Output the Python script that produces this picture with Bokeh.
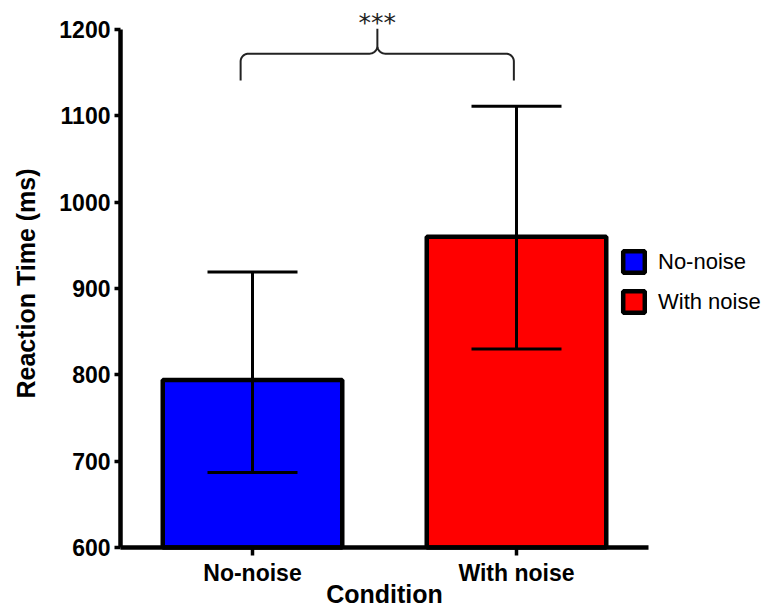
import numpy as np
from bokeh.plotting import figure
from bokeh.models import (ColumnDataSource, FixedTicker, Legend, LegendItem,
                          Whisker, Range1d)
from bokeh.embed import file_html
from bokeh.resources import INLINE
from bokeh.core.properties import value

# ---- data ----
conditions = ["No-noise", "With noise"]
means = [794, 960]
err_upper = [919, 1111]
err_lower = [687, 830]
colors = ["#0000ff", "#ff0000"]
y_ticks = [600, 700, 800, 900, 1000, 1100, 1200]
y_min, y_max = 600, 1200
significance = "***"
x_title = "Condition"
y_title = "Reaction Time (ms)"

xpos = [1, 2]
src = ColumnDataSource(dict(x=xpos, top=means, upper=err_upper, lower=err_lower,
                            color=colors, name=conditions))

FONT = "Liberation Sans"

p = figure(width=767, height=607,
           x_range=Range1d(0.04545, 2.95076), y_range=Range1d(530.5, 1233.6),
           output_backend="svg", toolbar_location=None,
           min_border_left=0, min_border_right=0, min_border_top=0,
           min_border_bottom=0)
p.outline_line_color = None
p.xgrid.visible = False
p.ygrid.visible = False
p.background_fill_color = "white"

bars = p.vbar(x="x", top="top", bottom=y_min, width=0.68, source=src,
              fill_color="color", line_color="black", line_width=4.5)

wh = Whisker(source=src, base="x", upper="upper", lower="lower",
             line_color="black", line_width=3, level="overlay")
wh.upper_head.size = 90
wh.lower_head.size = 90
wh.upper_head.line_width = 3
wh.lower_head.line_width = 3
p.add_layout(wh)

# significance bracket
bx0, bx1, bmid = 0.955, 1.99, 1.473
by_base, by_top, by_peak = 1141, 1172, 1201
rx, ry = 0.03, 9.0
t = np.linspace(0, np.pi / 2, 12)
xs = [bx0]; ys = [by_base]
xs += list(bx0 + rx * (1 - np.cos(t))); ys += list(by_top - ry + ry * np.sin(t))
xs += list(bmid - rx + rx * np.sin(t)); ys += list(by_top + ry * (1 - np.cos(t)))
xs += [bmid]; ys += [by_peak]
xs += list(bmid + rx - rx * np.sin(t[::-1])); ys += list(by_top + ry * (1 - np.cos(t[::-1])))
xs += list(bx1 - rx * (1 - np.cos(t[::-1]))); ys += list(by_top - ry + ry * np.sin(t[::-1]))
xs += [bx1]; ys += [by_base]
p.line(xs, ys, line_color="#222222", line_width=2)
p.text(x=[bmid], y=[1208], text=[significance], text_font=value("DejaVu Sans"),
       text_font_size="25px", text_align="center", text_baseline="alphabetic",
       text_color="#222222")

# axes (placed at fixed data locations)
p.yaxis.fixed_location = 0.5
p.xaxis.fixed_location = y_min
p.yaxis.ticker = FixedTicker(ticks=y_ticks)
p.yaxis.bounds = (y_min, y_max)
p.xaxis.ticker = FixedTicker(ticks=xpos)
p.xaxis.bounds = (0.5, 2.5)
p.xaxis.major_label_overrides = {1: conditions[0], 2: conditions[1]}
for ax in (p.xaxis, p.yaxis):
    ax.axis_line_width = 4.5
    ax.axis_line_color = "black"
    ax.major_tick_line_width = 3.5
    ax.major_tick_line_color = "black"
    ax.major_tick_in = 0
    ax.minor_tick_line_color = None
    ax.major_label_text_font = FONT
    ax.major_label_text_font_style = "bold"
    ax.major_label_text_color = "black"
p.yaxis.major_tick_out = 6
p.xaxis.major_tick_out = 8
p.yaxis.major_label_text_font_size = "23px"
p.xaxis.major_label_text_font_size = "23px"
p.yaxis.major_label_standoff = 4
p.xaxis.major_label_standoff = 5

# axis titles
p.text(x=[1.5], y=[546.5], text=[x_title], text_font=value(FONT),
       text_font_style="bold", text_font_size="25px", text_align="center",
       text_baseline="middle", text_color="black")
p.text(x=[0.1402], y=[905.8], text=[y_title], text_font=value(FONT),
       text_font_style="bold", text_font_size="25px", text_align="center",
       text_baseline="middle", text_color="black", angle=np.pi / 2)

legend = Legend(items=[LegendItem(label=conditions[0], renderers=[bars], index=0),
                       LegendItem(label=conditions[1], renderers=[bars], index=1)],
                location=(620, 292), orientation="vertical",
                glyph_width=27, glyph_height=27, spacing=13, padding=0, margin=0,
                label_text_font=FONT, label_text_font_size="22px",
                label_text_color="black", label_standoff=11,
                border_line_color=None, background_fill_alpha=0)
p.add_layout(legend, "center")

open("out.html", "w").write(file_html(p, INLINE))
